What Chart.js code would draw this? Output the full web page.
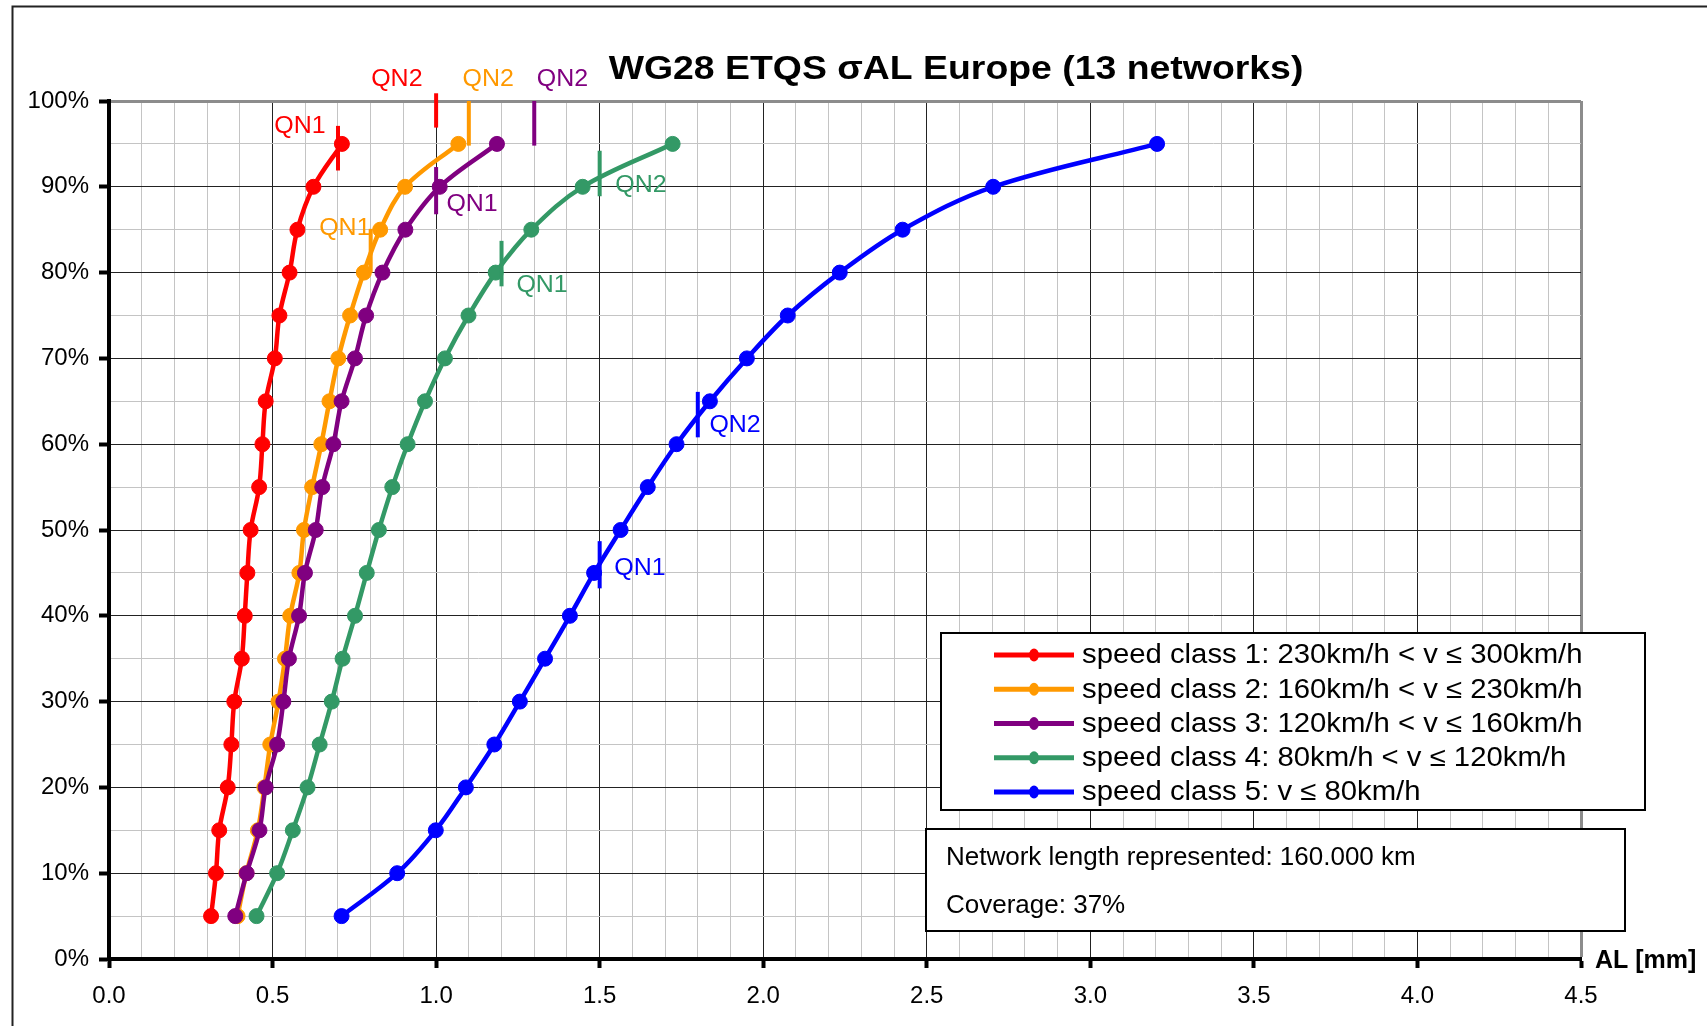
<!DOCTYPE html>
<html>
<head>
<meta charset="utf-8">
<script src="https://cdn.jsdelivr.net/npm/chart.js@4.4.1/dist/chart.umd.min.js"></script>
<style>
html,body{margin:0;padding:0;background:#fff;overflow:hidden}
#wrap{position:relative;width:1707px;height:1026px}
</style>
</head>
<body>
<div id="wrap"><canvas id="c"></canvas></div>
<script>
// ---------- DATA ----------
const chartTitle = 'WG28 ETQS σAL Europe (13 networks)';
const xAxisTitle = 'AL [mm]';
const levels = [5,10,15,20,25,30,35,40,45,50,55,60,65,70,75,80,85,90,95];
const seriesNames = [
  'speed class 1: 230km/h < v ≤ 300km/h',
  'speed class 2: 160km/h < v ≤ 230km/h',
  'speed class 3: 120km/h < v ≤ 160km/h',
  'speed class 4: 80km/h < v ≤ 120km/h',
  'speed class 5: v ≤ 80km/h'
];
const class1 = [0.312,0.327,0.337,0.363,0.374,0.383,0.406,0.415,0.423,0.433,0.459,0.469,0.479,0.507,0.521,0.552,0.576,0.625,0.712];
const class2 = [0.393,0.420,0.455,0.475,0.493,0.518,0.538,0.554,0.582,0.596,0.621,0.649,0.674,0.701,0.737,0.779,0.829,0.905,1.068];
const class3 = [0.386,0.421,0.460,0.479,0.514,0.533,0.550,0.581,0.599,0.632,0.652,0.686,0.711,0.752,0.786,0.836,0.906,1.011,1.186];
const class4 = [0.451,0.514,0.562,0.607,0.644,0.681,0.714,0.752,0.788,0.825,0.866,0.913,0.966,1.027,1.099,1.182,1.291,1.448,1.723];
const class5 = [0.711,0.881,0.999,1.091,1.178,1.256,1.333,1.409,1.483,1.564,1.647,1.735,1.837,1.950,2.075,2.234,2.426,2.703,3.204];
const seriesValues = [class1, class2, class3, class4, class5];

// QN marks (data units)
const qnSeries  = [0,0,1,1,2,2,3,3,4,4];
const qnNames   = ['QN1','QN2','QN1','QN2','QN1','QN2','QN1','QN2','QN1','QN2'];
const qnX       = [0.70,1.00,0.80,1.10,1.00,1.30,1.20,1.50,1.50,1.80];
const qnYTop    = [97.1,100.9,85.1,100.0,92.3,100.0,83.7,94.2,48.7,66.1];
const qnYBottom = [91.9,96.9,80.0,94.8,86.8,94.8,78.4,88.9,43.2,60.8];
const qnLabelX  = [0.584,0.880,0.721,1.159,1.110,1.386,1.324,1.626,1.623,1.914];
const qnLabelY  = [97.0,102.5,85.2,102.5,88.0,102.5,78.5,90.2,45.5,62.2];

const infoLines = ['Network length represented: 160.000 km', 'Coverage: 37%'];

// ---------- STYLE ----------
const colors = ['#ff0000','#ff9900','#800080','#339966','#0000ff'];
const FONT = "'Liberation Sans', Arial, sans-serif";

function isMult(v, step){ const r = v/step; return Math.abs(r - Math.round(r)) < 1e-6; }

function drawText(ctx, text, x, y, font, color, align, sx){
  ctx.save();
  ctx.font = font;
  ctx.fillStyle = color;
  ctx.textBaseline = 'middle';
  ctx.textAlign = 'left';
  const w = ctx.measureText(text).width * sx;
  let x0 = x;
  if (align === 'center') x0 = x - w/2;
  else if (align === 'right') x0 = x - w;
  ctx.translate(x0, y);
  ctx.scale(sx, 1);
  ctx.fillText(text, 0, 0);
  ctx.restore();
}

const datasets = seriesValues.map((xs, i) => ({
  label: seriesNames[i],
  data: xs.map((x, j) => ({x: x, y: levels[j]})),
  borderColor: colors[i],
  backgroundColor: colors[i],
  borderWidth: 4.5,
  pointRadius: 7.5,
  pointHoverRadius: 7.5,
  pointBorderWidth: 1,
  pointBorderColor: colors[i],
  pointBackgroundColor: colors[i],
  tension: 0.35,
  order: 10 - i,
  clip: false
}));
qnX.forEach((x, k) => {
  datasets.push({
    label: 'qn',
    data: [{x: x, y: qnYBottom[k]}, {x: x, y: qnYTop[k]}],
    borderColor: colors[qnSeries[k]],
    borderWidth: 4,
    pointRadius: 0,
    tension: 0,
    order: 0,
    clip: false
  });
});

const framePlugin = {
  id: 'frame',
  beforeDraw(chart){
    const ctx = chart.ctx;
    ctx.save();
    ctx.fillStyle = '#fff';
    ctx.fillRect(0, 0, chart.width, chart.height);
    ctx.strokeStyle = '#222';
    ctx.lineWidth = 2;
    ctx.beginPath();
    ctx.moveTo(12.5, chart.height + 5);
    ctx.lineTo(12.5, 6.5);
    ctx.lineTo(chart.width + 5, 6.5);
    ctx.stroke();
    ctx.restore();
  }
};

const overlayPlugin = {
  id: 'overlay',
  afterDraw(chart){
    const ctx = chart.ctx;
    const xs = chart.scales.x, ys = chart.scales.y;
    // title
    drawText(ctx, chartTitle, 956, 70, 'bold 34px ' + FONT, '#000', 'center', 1.1);
    // x axis title
    drawText(ctx, xAxisTitle, 1595, 961, 'bold 25px ' + FONT, '#000', 'left', 1.0);
    // QN labels
    qnNames.forEach((t, k) => {
      drawText(ctx, t, xs.getPixelForValue(qnLabelX[k]), ys.getPixelForValue(qnLabelY[k]),
        '24px ' + FONT, colors[qnSeries[k]], 'center', 1.04);
    });
    // legend box
    ctx.save();
    ctx.fillStyle = '#fff';
    ctx.fillRect(941, 633, 704, 177);
    ctx.strokeStyle = '#000';
    ctx.lineWidth = 2;
    ctx.strokeRect(941, 633, 704, 177);
    ctx.restore();
    seriesNames.forEach((name, i) => {
      const y = 655 + i * 34.25;
      ctx.save();
      ctx.strokeStyle = colors[i];
      ctx.lineWidth = 5;
      ctx.beginPath();
      ctx.moveTo(994, y);
      ctx.lineTo(1074, y);
      ctx.stroke();
      ctx.fillStyle = colors[i];
      ctx.beginPath();
      ctx.ellipse(1034, y, 5, 6.5, 0, 0, Math.PI * 2);
      ctx.fill();
      ctx.restore();
      drawText(ctx, name, 1082, y + 1, '27px ' + FONT, '#000', 'left', 1.085);
    });
    // info box
    ctx.save();
    ctx.fillStyle = '#fff';
    ctx.fillRect(926, 829, 699, 102);
    ctx.strokeStyle = '#000';
    ctx.lineWidth = 2;
    ctx.strokeRect(926, 829, 699, 102);
    ctx.restore();
    drawText(ctx, infoLines[0], 946, 858, '26px ' + FONT, '#000', 'left', 1.0);
    drawText(ctx, infoLines[1], 946, 906, '26px ' + FONT, '#000', 'left', 1.0);
  }
};

new Chart(document.getElementById('c'), {
  type: 'line',
  data: { datasets: datasets },
  options: {
    responsive: true,
    maintainAspectRatio: false,
    animation: false,
    events: [],
    layout: { padding: { left: 0, top: 101, right: 126, bottom: 0 } },
    plugins: {
      legend: { display: false },
      tooltip: { enabled: false },
      title: { display: false }
    },
    scales: {
      x: {
        type: 'linear',
        min: 0, max: 4.5,
        afterFit: s => { s.height = 67; },
        ticks: {
          stepSize: 0.1,
          autoSkip: false,
          maxRotation: 0,
          padding: 14,
          color: '#000',
          font: { family: FONT, size: 24 },
          callback: v => isMult(v, 0.5) ? Number(v).toFixed(1) : ''
        },
        grid: {
          color: c => (c.tick && Math.abs(c.tick.value - 4.5) < 1e-6) ? '#8c8c8c' : (c.tick && isMult(c.tick.value, 0.5) ? '#222' : '#c4c4c4'),
          lineWidth: c => (c.tick && Math.abs(c.tick.value - 4.5) < 1e-6) ? 3 : 1,
          tickLength: 9,
          tickWidth: 4,
          tickColor: c => (c.tick && isMult(c.tick.value, 0.5)) ? '#000' : 'rgba(0,0,0,0)'
        },
        border: { display: true, color: '#000', width: 4 }
      },
      y: {
        type: 'linear',
        min: 0, max: 100,
        afterFit: s => { s.width = 109; },
        ticks: {
          stepSize: 5,
          autoSkip: false,
          padding: 10,
          color: '#000',
          font: { family: FONT, size: 24 },
          callback: v => isMult(v, 10) ? v + '%' : ''
        },
        grid: {
          color: c => (c.tick && c.tick.value === 100) ? '#8c8c8c' : (c.tick && isMult(c.tick.value, 10) ? '#222' : '#c4c4c4'),
          lineWidth: c => (c.tick && c.tick.value === 100) ? 3 : 1,
          tickLength: 10,
          tickWidth: 4,
          tickColor: c => (c.tick && isMult(c.tick.value, 10)) ? '#000' : 'rgba(0,0,0,0)'
        },
        border: { display: true, color: '#000', width: 4 }
      }
    }
  },
  plugins: [framePlugin, overlayPlugin]
});
</script>
</body>
</html>
